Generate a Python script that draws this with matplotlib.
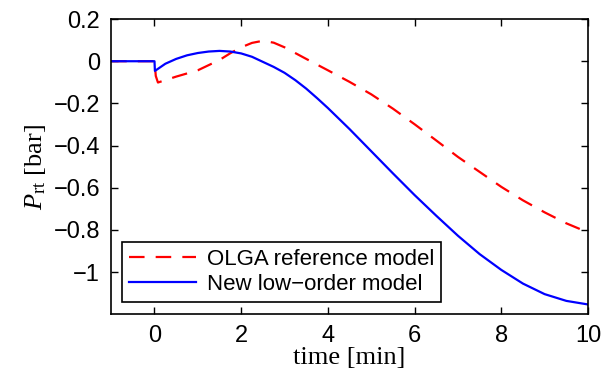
import matplotlib
matplotlib.use("Agg")
import matplotlib.pyplot as plt

# OLGA reference model (red dashed)
t_olga = [-1, 0, 0.03, 0.08, 0.5, 1.0, 1.5, 1.75, 2.0, 2.25, 2.5, 2.75, 3.0, 3.5,
          4.0, 4.5, 5.0, 5.5, 6.0, 6.5, 7.0, 7.5, 8.0, 8.5, 9.0, 9.5, 10]
p_olga = [0, 0, -0.07, -0.101, -0.073, -0.043, 0.006, 0.038, 0.066, 0.087, 0.097,
          0.088, 0.066, 0.011, -0.043, -0.098, -0.157, -0.225, -0.299, -0.376,
          -0.454, -0.525, -0.596, -0.66, -0.717, -0.769, -0.812]

# new low-order model (blue solid)
t_new = [-1, 0, 0.01, 0.25, 0.5, 0.75, 1.0, 1.25, 1.5, 1.75, 2.0, 2.25, 2.5, 2.75,
         3.0, 3.25, 3.5, 3.75, 4.0, 4.5, 5.0, 5.5, 6.0, 6.5, 7.0, 7.5, 8.0, 8.5,
         9.0, 9.5, 10]
p_new = [0, 0, -0.046, -0.012, 0.011, 0.028, 0.039, 0.046, 0.049, 0.046, 0.037,
         0.021, -0.003, -0.027, -0.055, -0.09, -0.13, -0.175, -0.222, -0.322,
         -0.427, -0.532, -0.635, -0.733, -0.828, -0.915, -0.99, -1.055, -1.105,
         -1.137, -1.154]

plt.rcParams["font.family"] = "Liberation Sans"
plt.rcParams["font.size"] = 16
plt.rcParams["mathtext.fontset"] = "custom"
plt.rcParams["mathtext.rm"] = "Liberation Serif"
plt.rcParams["mathtext.it"] = "Liberation Serif:italic"

fig = plt.figure(figsize=(6.04, 3.74), dpi=100)
ax = fig.add_axes([0.184, 0.160, 0.7895, 0.789])

ax.plot(t_olga, p_olga, color="#ff0000", lw=1.6, linestyle=(0, (7, 5)),
        label="OLGA reference model")
ax.plot(t_new, p_new, color="#0000ff", lw=1.6, label="New low\u2212order model")

ax.set_xlim(-1, 10)
ax.set_ylim(-1.2, 0.2)
ax.set_xticks([0, 2, 4, 6, 8, 10])
ax.set_yticks([-1, -0.8, -0.6, -0.4, -0.2, 0, 0.2])
ax.set_yticklabels(["\u22121", "\u22120.8", "\u22120.6", "\u22120.4", "\u22120.2", "0", "0.2"])
ax.tick_params(direction="in", top=True, right=True, length=5, width=1, pad=8,
               labelsize=17)
for s in ax.spines.values():
    s.set_linewidth(1.2)

ax.set_xlabel("time [min]", family="Liberation Serif", fontsize=19, labelpad=0)
ax.set_ylabel(r"$P_{\rm rt}$ [bar]", family="Liberation Serif", fontsize=19, labelpad=4)

leg = ax.legend(loc="lower left", bbox_to_anchor=(0.0237, 0.042), borderaxespad=0,
                fancybox=False, edgecolor="black", framealpha=1, handlelength=3,
                fontsize=16, borderpad=0.3, labelspacing=0.2, handletextpad=0.5)
leg.get_frame().set_linewidth(1.2)

fig.savefig("out.png", dpi=100)
